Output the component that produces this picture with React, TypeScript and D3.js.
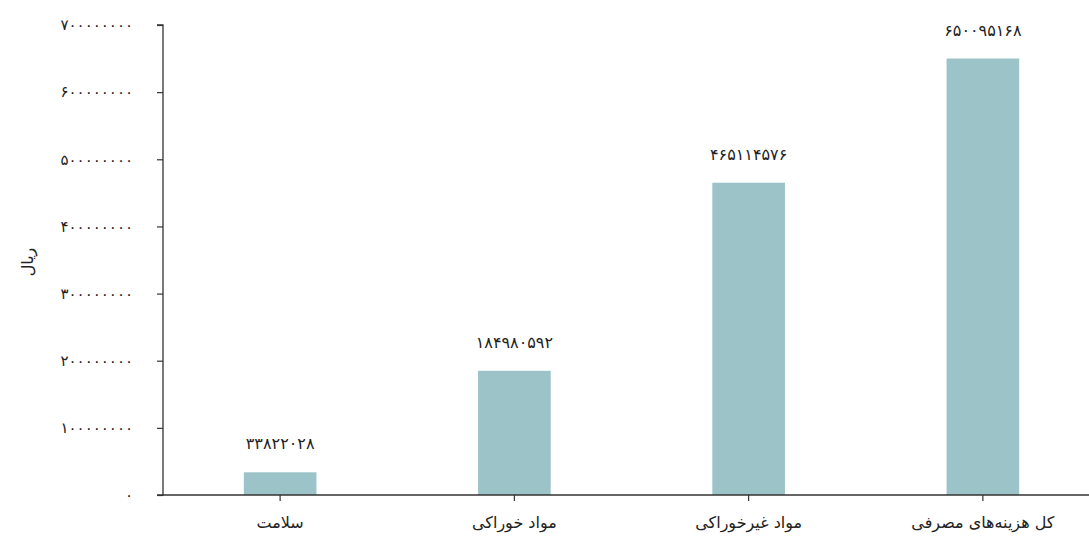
import React, { useEffect, useRef } from 'react'
import * as d3 from 'd3'

const categories = ['سلامت', 'مواد خوراکی', 'مواد غیرخوراکی', 'کل هزینه‌های مصرفی']
const values = [33822028, 184980592, 465114576, 650095168]
const yTicks = [0, 100000000, 200000000, 300000000, 400000000, 500000000, 600000000, 700000000]
const yLabel = 'ریال'

const W = 1089
const H = 539
const margin = { top: 25, right: -11, bottom: 44, left: 163 }
const FONT = '"DejaVu Sans", sans-serif'

const faDigits = '۰۱۲۳۴۵۶۷۸۹'
function toFa(s: string) {
  return s.replace(/[0-9]/g, (d) => faDigits[+d])
}

export default function App() {
  const ref = useRef<SVGSVGElement>(null)

  useEffect(() => {
    const svg = d3.select(ref.current)
    svg.selectAll('*').remove()

    const x = d3.scaleBand<string>()
      .domain(categories)
      .range([margin.left, W - margin.right])
      .padding(0)
    const y = d3.scaleLinear()
      .domain([0, 700000000])
      .range([H - margin.bottom, margin.top])

    const barW = x.bandwidth() * 0.31
    const axisColor = '#333'

    // bars
    svg.selectAll('.bar')
      .data(values)
      .enter()
      .append('rect')
      .attr('class', 'bar')
      .attr('x', (d, i) => x(categories[i])! + x.bandwidth() / 2 - barW / 2)
      .attr('y', (d) => y(d))
      .attr('width', barW)
      .attr('height', (d) => y(0) - y(d))
      .attr('fill', '#9cc4c8')

    // value labels
    svg.selectAll('.val')
      .data(values)
      .enter()
      .append('text')
      .attr('class', 'val')
      .attr('x', (d, i) => x(categories[i])! + x.bandwidth() / 2)
      .attr('y', (d) => y(d) - 23)
      .attr('text-anchor', 'middle')
      .attr('font-family', FONT)
      .attr('font-size', 16)
      .attr('fill', '#222')
      .text((d) => toFa(String(d)))

    // y axis
    const ya = svg.append('g')
      .attr('transform', `translate(${margin.left},0)`)
      .call(d3.axisLeft(y).tickValues(yTicks).tickSize(6).tickPadding(24).tickFormat((d) => toFa(String(d))))
    ya.select('.domain').attr('stroke', axisColor).attr('stroke-width', 1.3)
      .attr('d', `M-6,${y(700000000)}H0V${y(0)}H-6`)
    ya.selectAll('line').attr('stroke', axisColor).attr('stroke-width', 1.2)
    ya.selectAll('text').attr('font-family', FONT).attr('font-size', 15)
      .attr('letter-spacing', 2.6).attr('fill', '#222')

    // x axis
    const xa = svg.append('g')
      .attr('transform', `translate(0,${y(0)})`)
      .call(d3.axisBottom(x).tickSize(6).tickPadding(16))
    xa.select('.domain').attr('stroke', axisColor).attr('stroke-width', 1.3)
      .attr('d', `M${margin.left},0H${W}`)
    xa.selectAll('line').attr('stroke', axisColor).attr('stroke-width', 1.2)
    xa.selectAll('text').attr('font-family', FONT).attr('font-size', 16).attr('fill', '#222')

    // y label
    svg.append('text')
      .attr('transform', `translate(33,${(y(0) + y(700000000)) / 2 + 2}) rotate(-90)`)
      .attr('text-anchor', 'middle')
      .attr('font-family', FONT)
      .attr('font-size', 16)
      .attr('fill', '#222')
      .text(yLabel)
  }, [])

  return (
    <svg ref={ref} width={W} height={H} style={{ position: 'absolute', left: 0, top: 0, background: '#fff' }} />
  )
}
